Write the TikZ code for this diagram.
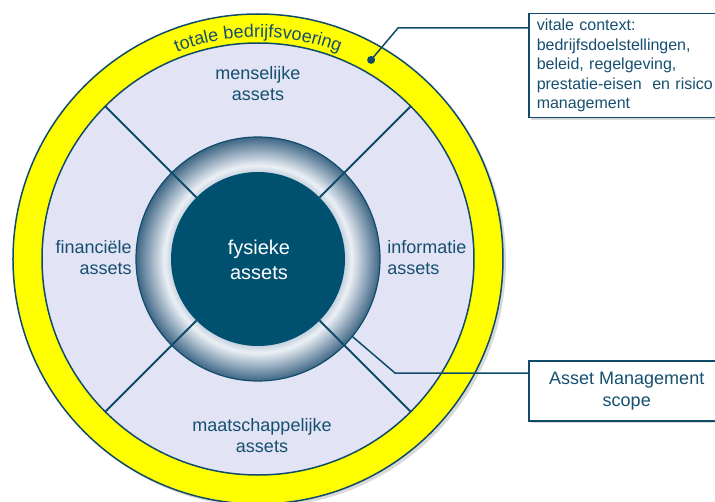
\documentclass[tikz,border=0pt]{standalone}
\usepackage{fontspec}
\setmainfont{Liberation Sans}
\usetikzlibrary{positioning,shadows,decorations.text}
\definecolor{donker}{RGB}{0,80,112}
\definecolor{lijn}{RGB}{16,76,106}
\definecolor{tekst}{RGB}{22,79,111}
\definecolor{lavendel}{RGB}{226,227,245}
\definecolor{geel}{RGB}{255,255,0}
\definecolor{ringbuiten}{RGB}{62,102,133}
\definecolor{ringmidden}{RGB}{236,240,246}
\definecolor{ringbinnen}{RGB}{196,210,222}
\pgfdeclareradialshading{ringschaduw}{\pgfpoint{0bp}{0bp}}{color(0bp)=(ringbinnen); color(17.8bp)=(ringbinnen); color(19.2bp)=(ringmidden); color(25bp)=(ringbuiten); color(50bp)=(ringbuiten)}

\begin{document}
\begin{tikzpicture}[x=1pt,y=1pt,semithick]
  \tikzstyle{label}=[text=tekst,font=\fontsize{18}{21}\selectfont,align=center,inner sep=0pt]
  \tikzstyle{kader}=[draw=lijn,line width=1.5pt,fill=white,text=tekst,drop shadow={opacity=0.3,shadow xshift=2pt,shadow yshift=-2pt}]
  \tikzstyle{scheiding}=[draw=lijn,line width=2pt]
  \tikzstyle{verbinding}=[draw=lijn,line width=1.5pt]

  \useasboundingbox (-258,-242) rectangle (457,259);

  % ringen
  \path[fill=geel,draw=lijn,line width=1.5pt,drop shadow={opacity=0.3,shadow xshift=3pt,shadow yshift=-3pt}] (0,0) circle (245);
  \filldraw[fill=lavendel,draw=lijn,line width=1.5pt] (0,0) circle (216);
  \shade[shading=ringschaduw] (0,0) circle (122);
  \draw[lijn,line width=1.2pt] (0,0) circle (122);
  \foreach \a in {45,135,225,315}
    \draw[scheiding] (\a:87) -- (\a:216);
  \fill[donker] (0,0) circle (87);

  % tekst langs de rand
  \path[decorate,decoration={text along path,text align=center,text color=tekst,
        text={|\fontsize{18}{21}\selectfont|totale bedrijfsvoering}}]
        (113:222) arc[start angle=113,end angle=67,radius=222];

  % assets
  \node[label] (mens) at (0,175.5) {menselijke\\assets};
  \node[label,anchor=east,align=right] (fin) at (-126,1.5) {financiële\\assets};
  \node[label,anchor=west,align=left] (info) at (129,1) {informatie\\assets};
  \node[label] (maat) at (4,-177) {maatschappelijke\\assets};
  \node[label,text=white,font=\fontsize{20}{25}\selectfont] (fys) at (1,-1.2) {fysieke\\assets};

  % kaders
  \node[kader,anchor=north west,align=left,text width=190pt,minimum height=104pt,inner xsep=8pt,
        font=\fontsize{16}{19.5}\selectfont] (ctx) at (270,246)
        {vitale context:\\bedrijfsdoelstellingen,\\beleid, regelgeving,\\prestatie-eisen~ en risico\\management};
  \node[kader,anchor=north west,minimum width=196pt,minimum height=60pt,align=center,
        font=\fontsize{18}{22}\selectfont] (scope) at (270,-101) {Asset Management\\scope};

  % verbindingen
  \coordinate (ctxpunt) at (60.4:229);
  \coordinate (ctxknik) at (140,231);
  \coordinate (scopepunt) at (-39.4:122);
  \coordinate (scopeknik) at (137,-114);
  \fill[lijn] (ctxpunt) circle (4);
  \draw[verbinding] (ctx.west |- ctxknik) -- (ctxknik) -- (ctxpunt);
  \draw[verbinding] (scope.west |- scopeknik) -- (scopeknik) -- (scopepunt);
\end{tikzpicture}
\end{document}
